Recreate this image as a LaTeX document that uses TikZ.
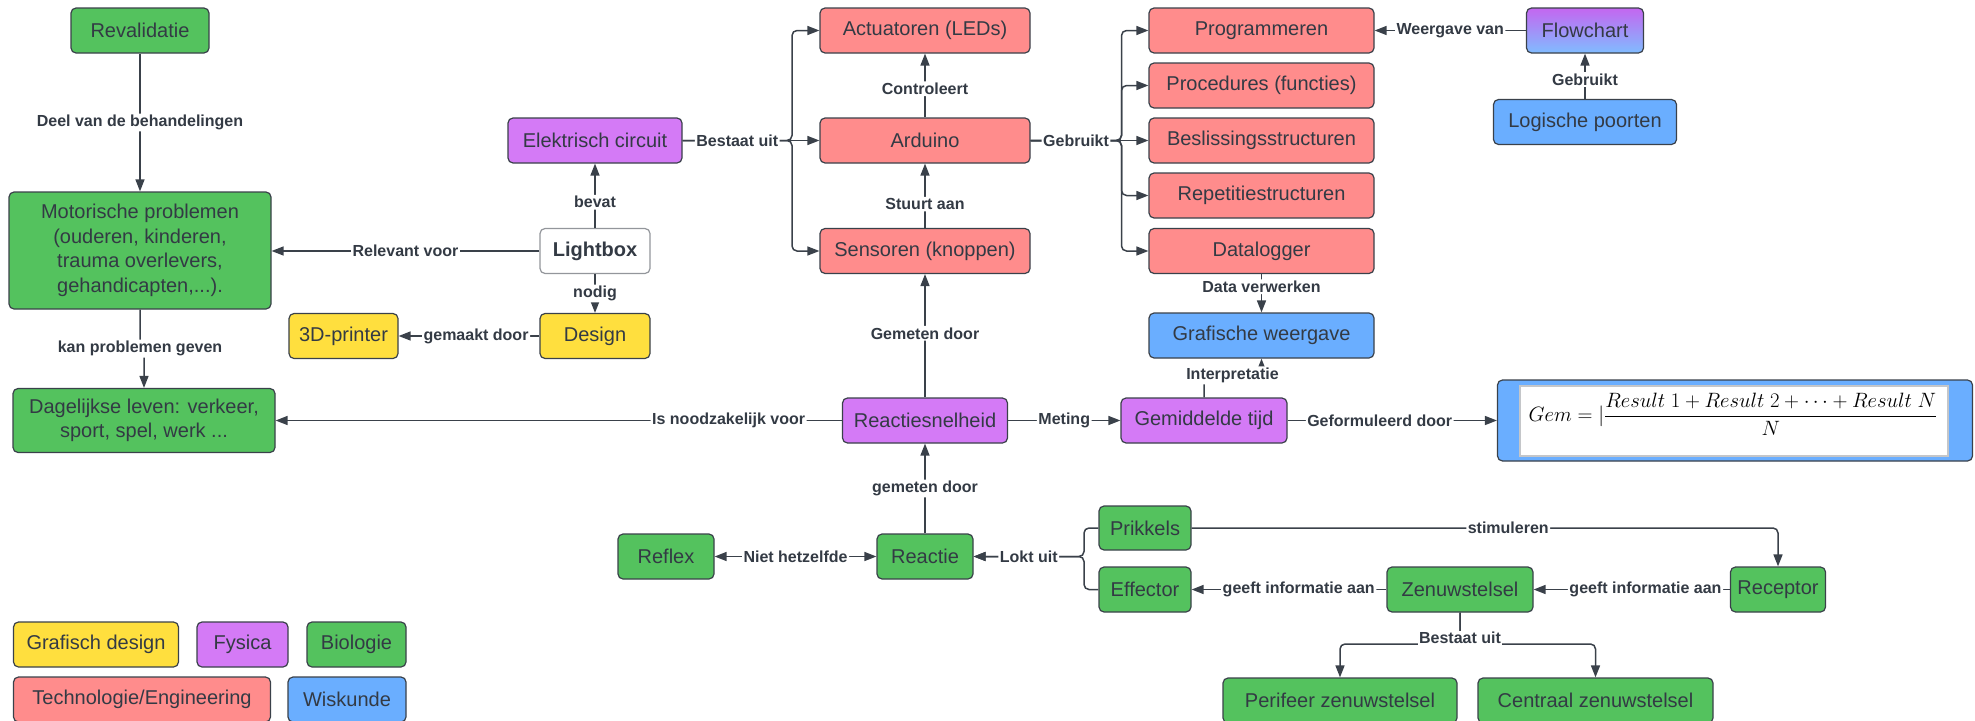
\documentclass[tikz,border=0pt]{standalone}
\usepackage{amsmath}
\usepackage{fontspec}
\setmainfont{Liberation Sans}
\usepackage{tikz}
\usetikzlibrary{arrows.meta, shapes, positioning}

\definecolor{BioGreen}{RGB}{84,194,94}
\definecolor{TechRed}{RGB}{255,140,140}
\definecolor{PhysPurple}{RGB}{212,122,246}
\definecolor{DesignYellow}{RGB}{255,223,62}
\definecolor{MathBlue}{RGB}{106,174,255}
\definecolor{FlowTop}{RGB}{196,102,240}
\definecolor{FlowBottom}{RGB}{128,188,255}
\definecolor{LineGray}{RGB}{58,65,74}
\definecolor{TextGray}{RGB}{51,58,68}

\begin{document}
\begin{tikzpicture}[x=1pt, y=-1pt, >={Triangle[length=12pt, width=9pt]},
  concept/.style ={draw=LineGray, rounded corners=5pt, text=TextGray,
    align=center, font=\fontsize{20}{24.5}\selectfont, minimum height=45pt},
  %
  bio/.style ={concept, fill=BioGreen},
  tech/.style ={concept, fill=TechRed},
  phys/.style ={concept, fill=PhysPurple},
  graphic/.style ={concept, fill=DesignYellow},
  wisk/.style ={concept, fill=MathBlue},
  %
  rel/.style ={fill=white, text=TextGray, inner sep=1.5pt,
    font=\fontsize{16}{18}\selectfont\bfseries},
  link/.style ={->, draw=LineGray, line width=1.5pt, rounded corners=5pt} ]

  \tikzset{every path/.style={line width=1.2pt}}

  \useasboundingbox (0,0) rectangle (1975,720);

  \begin{scope}
    %%%%%%%%%%%%%%%%%%%%%%%%%%%%%%%
    \node [bio, minimum width=138pt] (revalidatie) at (140,30.5) {Revalidatie};
    \node [bio, minimum width=262pt, minimum height=117pt] (motorisch) at (140,250.5)
      {Motorische problemen\\(ouderen, kinderen,\\trauma overlevers,\\gehandicapten,...).};
    \node [bio, minimum width=262pt, minimum height=64pt] (dagelijks) at (144,420.5)
      {Dagelijkse leven: verkeer,\\sport, spel, werk ...};
    \node [phys, minimum width=174pt] (elektrisch) at (595,140.5) {Elektrisch circuit};
    \node [concept, fill=white, draw=LineGray!55, minimum width=110pt,
      font=\fontsize{20}{24.5}\selectfont\bfseries] (lightbox) at (595,251) {Lightbox};
    \node [graphic, minimum width=110pt] (design) at (595,336) {Design};
    \node [graphic, minimum width=109pt] (printer) at (343.5,336) {3D-printer};
    %%%%%%%%%%%%%%%%%%%%%%%%%%%%%%%
    \node [tech, minimum width=210pt] (actuatoren) at (925,30.5) {Actuatoren (LEDs)};
    \node [tech, minimum width=210pt] (arduino) at (925,140.5) {Arduino};
    \node [tech, minimum width=210pt] (sensoren) at (925,251) {Sensoren (knoppen)};
    %%%%%%%%%%%%%%%%%%%%%%%%%%%%%%%
    \node [tech, minimum width=225pt] (programmeren) at (1261.5,30.5) {Programmeren};
    \node [tech, minimum width=225pt] (procedures) at (1261.5,85.5) {Procedures (functies)};
    \node [tech, minimum width=225pt] (beslissing) at (1261.5,140.5) {Beslissingsstructuren};
    \node [tech, minimum width=225pt] (repetitie) at (1261.5,195.5) {Repetitiestructuren};
    \node [tech, minimum width=225pt] (datalogger) at (1261.5,251) {Datalogger};
    \node [wisk, minimum width=225pt] (grafisch) at (1261.5,335.5) {Grafische weergave};
    \node [concept, top color=FlowTop, bottom color=FlowBottom, minimum width=117pt]
      (flowchart) at (1585,30.5) {Flowchart};
    \node [wisk, minimum width=183pt] (logisch) at (1585,122) {Logische poorten};
    %%%%%%%%%%%%%%%%%%%%%%%%%%%%%%%
    \node [phys, minimum width=165pt] (reactiesnelheid) at (925,420.5) {Reactiesnelheid};
    \node [phys, minimum width=166pt] (gemiddelde) at (1204,420.5) {Gemiddelde tijd};
    \node [wisk, minimum width=475pt, minimum height=81pt] (formule) at (1735,420.5) {};
    \node [draw=LineGray!30, fill=white, minimum width=428pt, minimum height=70pt]
      (formulevak) at (1734,421) {};
    \node [font=\fontsize{20}{24}\selectfont] (formuletekst) at (1733,414)
      {$Gem = |\dfrac{Result\ 1 + Result\ 2 + \cdots + Result\ N}{N}$};
    %%%%%%%%%%%%%%%%%%%%%%%%%%%%%%%
    \node [bio, minimum width=96pt] (reactie) at (925,556.5) {Reactie};
    \node [bio, minimum width=96pt] (reflex) at (666,556.5) {Reflex};
    \node [bio, minimum width=92pt, minimum height=44pt] (prikkels) at (1145,528) {Prikkels};
    \node [bio, minimum width=92pt] (effector) at (1145,589.5) {Effector};
    \node [bio, minimum width=146pt] (zenuwstelsel) at (1460,589.5) {Zenuwstelsel};
    \node [bio, minimum width=95pt] (receptor) at (1778,589.5) {Receptor};
    \node [bio, minimum width=234pt] (perifeer) at (1340,700.5) {Perifeer zenuwstelsel};
    \node [bio, minimum width=235pt] (centraal) at (1595.5,700.5) {Centraal zenuwstelsel};
    %%%%%%%%%%%%%%%%%%%%%%%%%%%%%%% legenda
    \node [graphic, minimum width=165pt] (legDesign) at (96,644.5) {Grafisch design};
    \node [phys, minimum width=91pt] (legFysica) at (242.5,644.5) {Fysica};
    \node [bio, minimum width=99pt] (legBiologie) at (356.5,644.5) {Biologie};
    \node [tech, minimum width=257pt] (legTechniek) at (142,699.5) {Technologie/Engineering};
    \node [wisk, minimum width=118pt] (legWiskunde) at (347,699.5) {Wiskunde};
  \end{scope}

  \begin{scope}
    \coordinate (splitCircuit) at (792,140.5);
    \coordinate (splitArduino) at (1121.5,140.5);
    \coordinate (splitReactie) at (1084,556.5);
    \coordinate (splitZenuw) at (1460,644);

    \draw [link] (revalidatie) -- node [rel] {Deel van de behandelingen} (motorisch);
    \draw [link] (motorisch.south) -- ++(0,39) node [rel] {kan problemen geven}
      -| (dagelijks.north);
    \draw [link] (lightbox.west) -- node [rel] {Relevant voor} (lightbox.west -| motorisch.east);
    \draw [link] (lightbox) -- node [rel, pos=0.4] {bevat} (elektrisch);
    \draw [link] (lightbox) -- node [rel] {nodig} (design);
    \draw [link] (design) -- node [rel, pos=0.45] {gemaakt door} (printer);
    % circuit
    \draw [link] (elektrisch.east) -- (splitCircuit) |- (actuatoren.west);
    \draw [link] (elektrisch.east) -- (splitCircuit) |- (sensoren.west);
    \draw [link] (elektrisch.east) -- node [rel] {Bestaat uit} (splitCircuit) -- (arduino.west);
    \draw [link] (arduino) -- node [rel, pos=0.45] {Controleert} (actuatoren);
    \draw [link] (sensoren) -- node [rel, pos=0.37] {Stuurt aan} (arduino);
    \draw [link] (reactiesnelheid) -- node [rel, pos=0.52] {Gemeten door} (sensoren);
    % programmeren
    \draw [link] (arduino.east) -- (splitArduino) |- (programmeren.west);
    \draw [link] (arduino.east) -- (splitArduino) |- (procedures.west);
    \draw [link] (arduino.east) -- (splitArduino) |- (repetitie.west);
    \draw [link] (arduino.east) -- (splitArduino) |- (datalogger.west);
    \draw [link] (arduino.east) -- node [rel] {Gebruikt} (splitArduino) -- (beslissing.west);
    \draw [link] (flowchart) -- node [rel] {Weergave van} (programmeren);
    \draw [link] (logisch) -- node [rel, pos=0.43] {Gebruikt} (flowchart);
    \draw [link] (datalogger) -- node [rel, pos=0.33] {Data verwerken} (grafisch);
    \draw [link] (gemiddelde.north) -- ++(0,-22) -- ++(28.5,0) node [rel] {Interpretatie}
      -| (grafisch.south);
    % reactiesnelheid
    \draw [link] (reactiesnelheid) -- node [rel, pos=0.2] {Is noodzakelijk voor} (dagelijks);
    \draw [link] (reactiesnelheid) -- node [rel] {Meting} (gemiddelde);
    \draw [link] (gemiddelde) -- node [rel, pos=0.44] {Geformuleerd door} (formule);
    \draw [link] (reactie) -- node [rel] {gemeten door} (reactiesnelheid);
    \draw [link, <->] (reflex) -- node [rel] {Niet hetzelfde} (reactie);
    % zenuwstelsel
    \draw [link] (prikkels.west) -| (splitReactie) -- (reactie);
    \draw [link] (effector.west) -| (splitReactie) -- node [rel] {Lokt uit} (reactie);
    \draw [link] (prikkels.east) -| node [rel, pos=0.27] {stimuleren} (receptor.north);
    \draw [link] (receptor) -- node [rel, pos=0.43] {geeft informatie aan} (zenuwstelsel);
    \draw [link] (zenuwstelsel) -- node [rel, pos=0.45] {geeft informatie aan} (effector);
    \draw [link] (zenuwstelsel.south) -- (splitZenuw) -| (perifeer.north);
    \draw [link] (zenuwstelsel.south) -- (splitZenuw) -| (centraal.north);
    \node [rel] (bestaatZenuw) at (1460,638) {Bestaat uit};
  \end{scope}

\end{tikzpicture}
\end{document}
